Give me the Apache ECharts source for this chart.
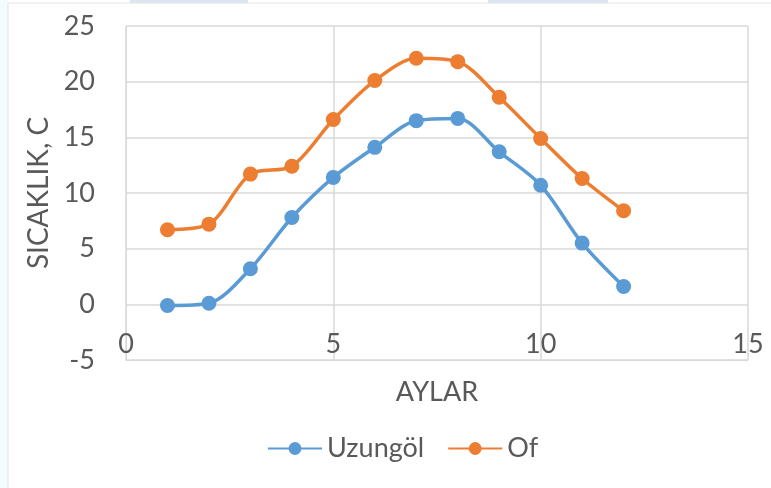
<!doctype html>
<html>
<head>
<meta charset="UTF-8">
<title>Sıcaklık</title>
<script src="https://cdn.jsdelivr.net/npm/echarts@6/dist/echarts.min.js"></script>
<style>
  html, body { margin: 0; padding: 0; background: #fff; }
  #main { width: 771px; height: 488px; }
</style>
</head>
<body>
<div id="main"></div>
<script>
// aylar (x) ve sicaklik degerleri
var aylar = [1, 2, 3, 4, 5, 6, 7, 8, 9, 10, 11, 12];
var uzungol = [-0.1, 0.1, 3.2, 7.8, 11.4, 14.1, 16.5, 16.7, 13.7, 10.7, 5.5, 1.6];
var of = [6.7, 7.2, 11.7, 12.4, 16.6, 20.1, 22.1, 21.8, 18.6, 14.9, 11.3, 8.4];
var seriesNames = ['Uzungöl', 'Of'];

function pairs(ys) {
    return aylar.map(function (x, i) { return [x, ys[i]]; });
}

var txt = '#595959';
var gridCol = '#d9d9d9';
var font = 'Lato';
var fs = 27;

var myChart = echarts.init(document.getElementById('main'));
var option = {
    animation: false,
    textStyle: { fontFamily: font },
    graphic: [
        { type: 'rect', shape: { x: 0, y: 0, width: 8, height: 488 }, style: { fill: '#f3fbfc' } },
        { type: 'line', shape: { x1: 8, y1: 3, x2: 8, y2: 488 }, style: { stroke: '#e3e3e3', lineWidth: 1 } },
        { type: 'line', shape: { x1: 8, y1: 3, x2: 771, y2: 3 }, style: { stroke: '#e3e3e3', lineWidth: 1 } },
        { type: 'rect', shape: { x: 130, y: 0, width: 118, height: 3 }, style: { fill: '#dce6f0' } },
        { type: 'rect', shape: { x: 488, y: 0, width: 120, height: 3 }, style: { fill: '#dce6f0' } }
    ],
    grid: { left: 126, right: 23, top: 26, bottom: 128 },
    legend: {
        data: seriesNames,
        left: 262,
        top: 430,
        itemWidth: 54,
        itemHeight: 16,
        itemGap: 23,
        textStyle: { color: txt, fontSize: fs, fontFamily: font }
    },
    xAxis: {
        type: 'value',
        min: 0, max: 15, interval: 5,
        name: 'AYLAR',
        nameLocation: 'middle',
        nameGap: 19,
        nameTextStyle: { color: txt, fontSize: fs, fontFamily: font },
        axisLine: { show: true, onZero: false, lineStyle: { color: gridCol } },
        axisTick: { show: false },
        axisLabel: { inside: true, margin: 2, color: txt, fontSize: fs, fontFamily: font },
        splitLine: { show: true, lineStyle: { color: gridCol, width: 1.5 } }
    },
    yAxis: {
        type: 'value',
        min: -5, max: 25, interval: 5,
        name: 'SICAKLIK, C',
        nameLocation: 'middle',
        nameGap: 63,
        nameTextStyle: { color: txt, fontSize: 28, fontFamily: font },
        axisLine: { show: true, lineStyle: { color: gridCol } },
        axisTick: { show: false },
        axisLabel: { margin: 31, color: txt, fontSize: fs, fontFamily: font },
        splitLine: { show: true, lineStyle: { color: gridCol, width: 1.5 } }
    },
    series: [
        {
            name: seriesNames[0],
            type: 'line',
            data: pairs(uzungol),
            smooth: 0.3,
            symbol: 'circle',
            symbolSize: 15,
            color: '#5b9bd5',
            lineStyle: { width: 3.5 }
        },
        {
            name: seriesNames[1],
            type: 'line',
            data: pairs(of),
            smooth: 0.3,
            symbol: 'circle',
            symbolSize: 15,
            color: '#ed7d31',
            lineStyle: { width: 3.5 }
        }
    ]
};
myChart.setOption(option);
</script>
</body>
</html>
